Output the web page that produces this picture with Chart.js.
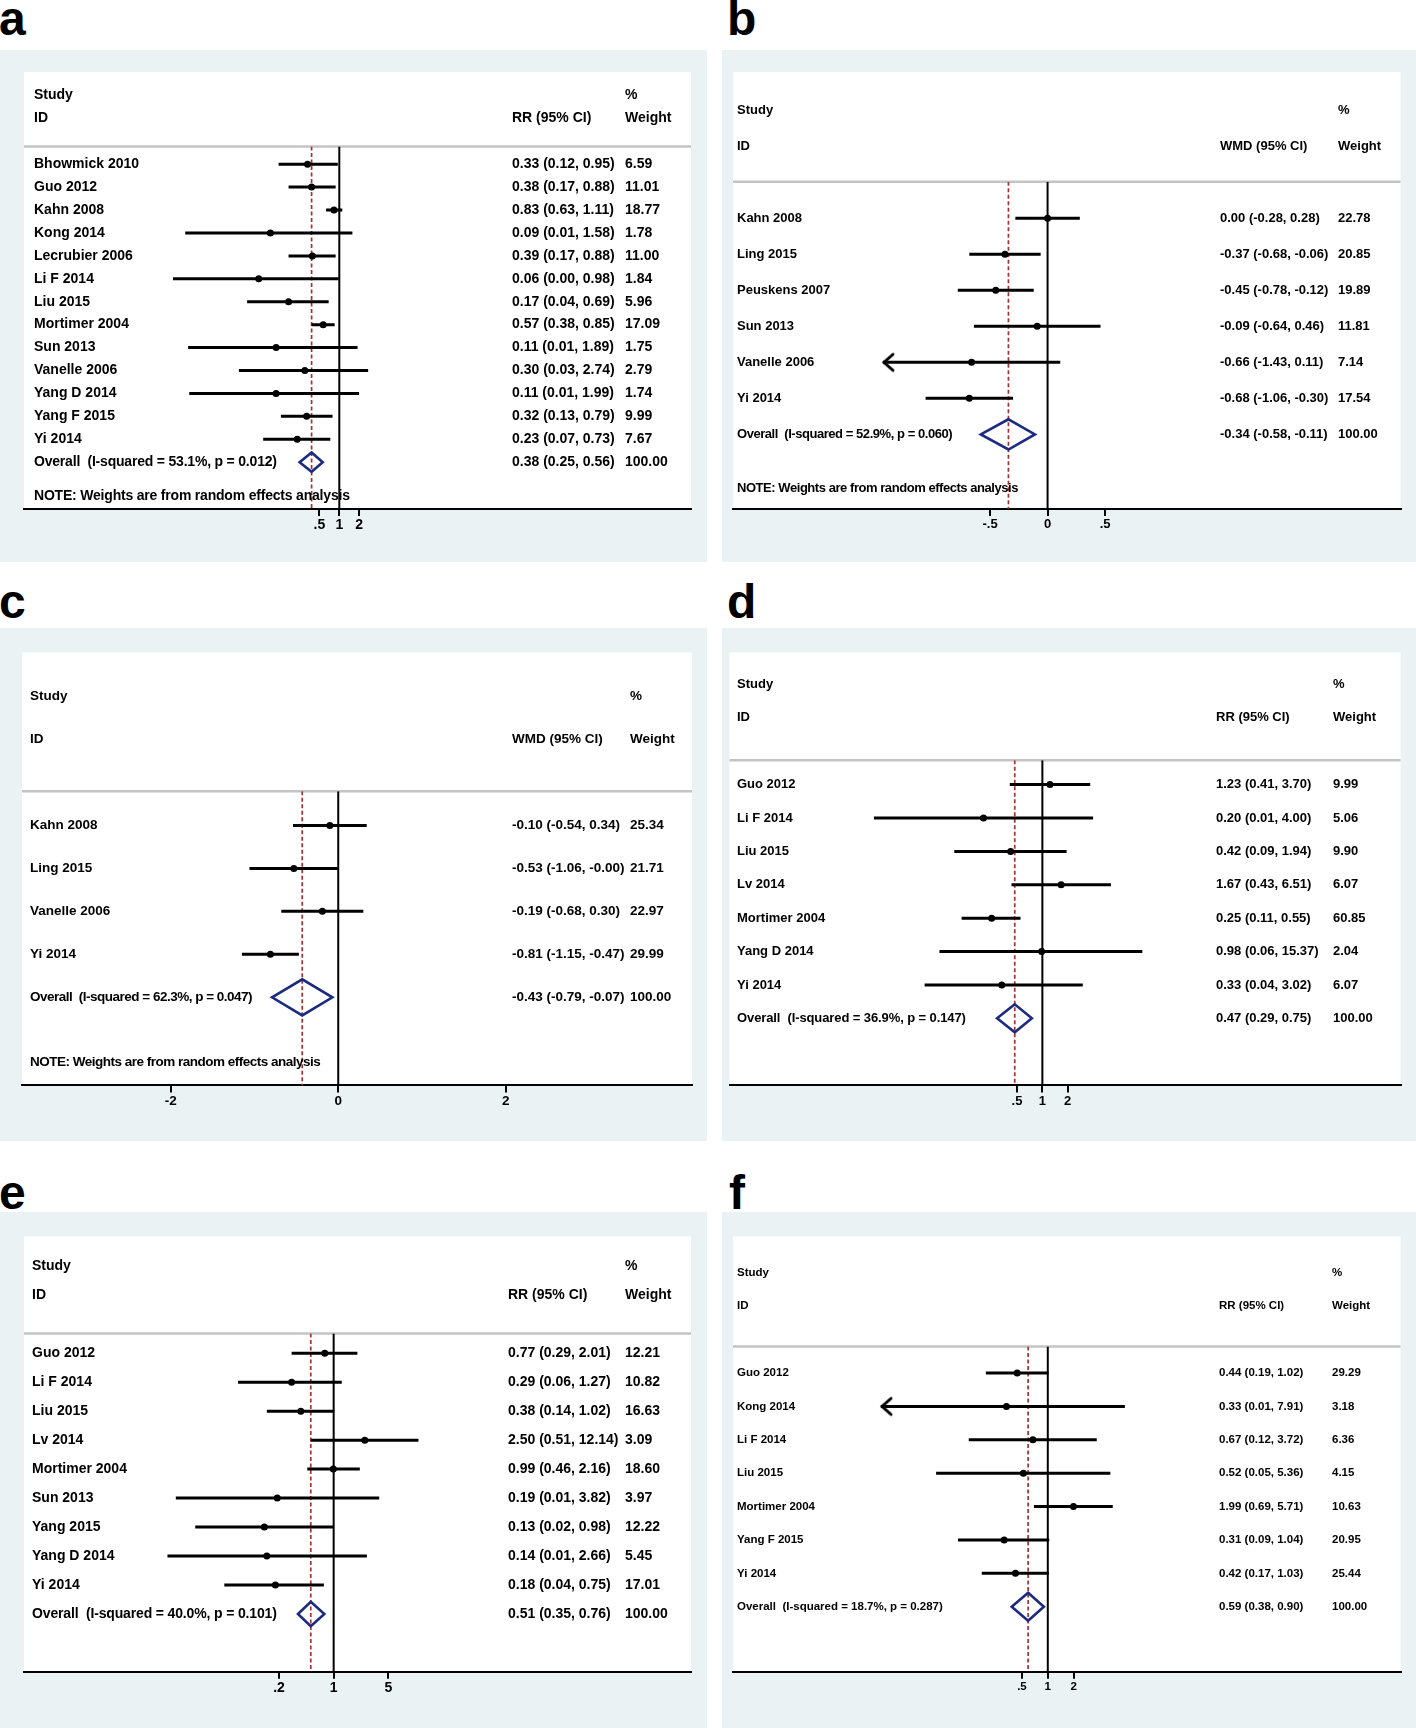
<!DOCTYPE html>
<html>
<head>
<meta charset="utf-8">
<script src="https://cdn.jsdelivr.net/npm/chart.js@4.4.1/dist/chart.umd.min.js"></script>
<style>
  body { margin: 0; background: #fff; }
  #page { position: relative; width: 1416px; height: 1728px; overflow: hidden; }
  canvas { position: absolute; }
  .tag { position: absolute; font: bold 48px "Liberation Sans", Arial, sans-serif; line-height: 48px; color: #000; }
</style>
</head>
<body>
<div id="page">
  <div class="tag" style="left:-1px;top:-5px">a</div>
  <div class="tag" style="left:727px;top:-5px">b</div>
  <div class="tag" style="left:-1px;top:578px">c</div>
  <div class="tag" style="left:727px;top:578px">d</div>
  <div class="tag" style="left:-1px;top:1169px">e</div>
  <div class="tag" style="left:729px;top:1169px">f</div>
  <canvas id="cA"></canvas>
  <canvas id="cB"></canvas>
  <canvas id="cC"></canvas>
  <canvas id="cD"></canvas>
  <canvas id="cE"></canvas>
  <canvas id="cF"></canvas>
</div>
<script>
// ---- panel a (RR) ----
const aStudies = ["Bhowmick 2010", "Guo 2012", "Kahn 2008", "Kong 2014", "Lecrubier 2006", "Li F 2014",
  "Liu 2015", "Mortimer 2004", "Sun 2013", "Vanelle 2006", "Yang D 2014", "Yang F 2015", "Yi 2014"];
const aEst = [0.33, 0.38, 0.83, 0.09, 0.39, 0.06, 0.17, 0.57, 0.11, 0.30, 0.11, 0.32, 0.23];
const aLo  = [0.12, 0.17, 0.63, 0.0046, 0.17, 0.003, 0.04, 0.38, 0.0051, 0.03, 0.0053, 0.13, 0.07];
const aHi  = [0.95, 0.88, 1.11, 1.58, 0.88, 0.98, 0.69, 0.85, 1.89, 2.74, 1.99, 0.79, 0.73];
const aCI  = ["0.33 (0.12, 0.95)", "0.38 (0.17, 0.88)", "0.83 (0.63, 1.11)", "0.09 (0.01, 1.58)",
  "0.39 (0.17, 0.88)", "0.06 (0.00, 0.98)", "0.17 (0.04, 0.69)", "0.57 (0.38, 0.85)", "0.11 (0.01, 1.89)",
  "0.30 (0.03, 2.74)", "0.11 (0.01, 1.99)", "0.32 (0.13, 0.79)", "0.23 (0.07, 0.73)"];
const aWeight = ["6.59", "11.01", "18.77", "1.78", "11.00", "1.84", "5.96", "17.09", "1.75", "2.79", "1.74", "9.99", "7.67"];
const aOverall = [0.38, 0.25, 0.56];
const aOverallText = ["Overall  (I-squared = 53.1%, p = 0.012)", "0.38 (0.25, 0.56)", "100.00"];
const aTicks = [0.5, 1, 2];
const aArrows = [];

// ---- panel b (WMD) ----
const bStudies = ["Kahn 2008", "Ling 2015", "Peuskens 2007", "Sun 2013", "Vanelle 2006", "Yi 2014"];
const bEst = [0.00, -0.37, -0.45, -0.09, -0.66, -0.68];
const bLo  = [-0.28, -0.68, -0.78, -0.64, -1.43, -1.06];
const bHi  = [0.28, -0.06, -0.12, 0.46, 0.11, -0.30];
const bCI  = ["0.00 (-0.28, 0.28)", "-0.37 (-0.68, -0.06)", "-0.45 (-0.78, -0.12)", "-0.09 (-0.64, 0.46)",
  "-0.66 (-1.43, 0.11)", "-0.68 (-1.06, -0.30)"];
const bWeight = ["22.78", "20.85", "19.89", "11.81", "7.14", "17.54"];
const bOverall = [-0.34, -0.58, -0.11];
const bOverallText = ["Overall  (I-squared = 52.9%, p = 0.060)", "-0.34 (-0.58, -0.11)", "100.00"];
const bTicks = [-0.5, 0, 0.5];
const bArrows = [4];

// ---- panel c (WMD) ----
const cStudies = ["Kahn 2008", "Ling 2015", "Vanelle 2006", "Yi 2014"];
const cEst = [-0.10, -0.53, -0.19, -0.81];
const cLo  = [-0.54, -1.06, -0.68, -1.15];
const cHi  = [0.34, -0.00, 0.30, -0.47];
const cCI  = ["-0.10 (-0.54, 0.34)", "-0.53 (-1.06, -0.00)", "-0.19 (-0.68, 0.30)", "-0.81 (-1.15, -0.47)"];
const cWeight = ["25.34", "21.71", "22.97", "29.99"];
const cOverall = [-0.43, -0.79, -0.07];
const cOverallText = ["Overall  (I-squared = 62.3%, p = 0.047)", "-0.43 (-0.79, -0.07)", "100.00"];
const cTicks = [-2, 0, 2];
const cArrows = [];

// ---- panel d (RR) ----
const dStudies = ["Guo 2012", "Li F 2014", "Liu 2015", "Lv 2014", "Mortimer 2004", "Yang D 2014", "Yi 2014"];
const dEst = [1.23, 0.20, 0.42, 1.67, 0.25, 0.98, 0.33];
const dLo  = [0.41, 0.01, 0.09, 0.43, 0.11, 0.06, 0.04];
const dHi  = [3.70, 4.00, 1.94, 6.51, 0.55, 15.37, 3.02];
const dCI  = ["1.23 (0.41, 3.70)", "0.20 (0.01, 4.00)", "0.42 (0.09, 1.94)", "1.67 (0.43, 6.51)",
  "0.25 (0.11, 0.55)", "0.98 (0.06, 15.37)", "0.33 (0.04, 3.02)"];
const dWeight = ["9.99", "5.06", "9.90", "6.07", "60.85", "2.04", "6.07"];
const dOverall = [0.47, 0.29, 0.75];
const dOverallText = ["Overall  (I-squared = 36.9%, p = 0.147)", "0.47 (0.29, 0.75)", "100.00"];
const dTicks = [0.5, 1, 2];
const dArrows = [];

// ---- panel e (RR) ----
const eStudies = ["Guo 2012", "Li F 2014", "Liu 2015", "Lv 2014", "Mortimer 2004", "Sun 2013", "Yang 2015", "Yang D 2014", "Yi 2014"];
const eEst = [0.77, 0.29, 0.38, 2.50, 0.99, 0.19, 0.13, 0.14, 0.18];
const eLo  = [0.29, 0.06, 0.14, 0.51, 0.46, 0.0096, 0.017, 0.0075, 0.04];
const eHi  = [2.01, 1.27, 1.02, 12.14, 2.16, 3.82, 0.98, 2.66, 0.75];
const eCI  = ["0.77 (0.29, 2.01)", "0.29 (0.06, 1.27)", "0.38 (0.14, 1.02)", "2.50 (0.51, 12.14)",
  "0.99 (0.46, 2.16)", "0.19 (0.01, 3.82)", "0.13 (0.02, 0.98)", "0.14 (0.01, 2.66)", "0.18 (0.04, 0.75)"];
const eWeight = ["12.21", "10.82", "16.63", "3.09", "18.60", "3.97", "12.22", "5.45", "17.01"];
const eOverall = [0.51, 0.35, 0.76];
const eOverallText = ["Overall  (I-squared = 40.0%, p = 0.101)", "0.51 (0.35, 0.76)", "100.00"];
const eTicks = [0.2, 1, 5];
const eArrows = [];

// ---- panel f (RR) ----
const fStudies = ["Guo 2012", "Kong 2014", "Li F 2014", "Liu 2015", "Mortimer 2004", "Yang F 2015", "Yi 2014"];
const fEst = [0.44, 0.33, 0.67, 0.52, 1.99, 0.31, 0.42];
const fLo  = [0.19, 0.0114, 0.12, 0.05, 0.69, 0.09, 0.17];
const fHi  = [1.02, 7.91, 3.72, 5.36, 5.71, 1.04, 1.03];
const fCI  = ["0.44 (0.19, 1.02)", "0.33 (0.01, 7.91)", "0.67 (0.12, 3.72)", "0.52 (0.05, 5.36)",
  "1.99 (0.69, 5.71)", "0.31 (0.09, 1.04)", "0.42 (0.17, 1.03)"];
const fWeight = ["29.29", "3.18", "6.36", "4.15", "10.63", "20.95", "25.44"];
const fOverall = [0.59, 0.38, 0.90];
const fOverallText = ["Overall  (I-squared = 18.7%, p = 0.287)", "0.59 (0.38, 0.90)", "100.00"];
const fTicks = [0.5, 1, 2];
const fArrows = [1];

const NOTE = "NOTE: Weights are from random effects analysis";
const FONT = '"Liberation Sans", Arial, Helvetica, sans-serif';

// layout of each panel (page pixels); sp = letter spacing of the long label lines
const panels = [
  { cv: "cA", studies: aStudies, est: aEst, lo: aLo, hi: aHi, ci: aCI, w: aWeight, overall: aOverall, ov: aOverallText,
    ticks: aTicks, arrows: aArrows, effect: "RR (95% CI)", log: true, xMin: 1.65e-5, xMax: 2.16e5, note: 14.5,
    left: 0, top: 50, width: 707, height: 512, wl: 24, wr: 691, wt: 72, rule: 146.6, axis: 509.1, row0: 164.2, gap: 22.92,
    nameX: 34, ciX: 512, wX: 625, size: 14, sp: -0.2 },
  { cv: "cB", studies: bStudies, est: bEst, lo: bLo, hi: bHi, ci: bCI, w: bWeight, overall: bOverall, ov: bOverallText,
    ticks: bTicks, arrows: bArrows, effect: "WMD (95% CI)", log: false, xMin: -2.733, xMax: 3.067, note: 7.5,
    left: 722, top: 50, width: 694, height: 512, wl: 729.5, wr: 1400.6, wt: 72, rule: 181.8, axis: 509.1, row0: 218.2, gap: 36.03,
    nameX: 737, ciX: 1220, wX: 1338, size: 13, sp: -0.45 },
  { cv: "cC", studies: cStudies, est: cEst, lo: cLo, hi: cHi, ci: cCI, w: cWeight, overall: cOverall, ov: cOverallText,
    ticks: cTicks, arrows: cArrows, effect: "WMD (95% CI)", log: false, xMin: -3.776, xMax: 4.224, note: 5.5,
    left: 0, top: 628, width: 707, height: 513, wl: 22, wr: 692, wt: 652.4, rule: 791.2, axis: 1085.4, row0: 825.4, gap: 42.98,
    nameX: 30, ciX: 512, wX: 630, size: 13.5, sp: -0.5 },
  { cv: "cD", studies: dStudies, est: dEst, lo: dLo, hi: dHi, ci: dCI, w: dWeight, overall: dOverall, ov: dOverallText,
    ticks: dTicks, arrows: dArrows, effect: "RR (95% CI)", log: true, xMin: 1.93e-4, xMax: 1.79e4, note: null,
    left: 722, top: 628, width: 694, height: 513, wl: 729.5, wr: 1400.6, wt: 652.4, rule: 760.3, axis: 1085.4, row0: 784.6, gap: 33.39,
    nameX: 737, ciX: 1216, wX: 1333, size: 13, sp: -0.1 },
  { cv: "cE", studies: eStudies, est: eEst, lo: eLo, hi: eHi, ci: eCI, w: eWeight, overall: eOverall, ov: eOverallText,
    ticks: eTicks, arrows: eArrows, effect: "RR (95% CI)", log: true, xMin: 1.1e-4, xMax: 3.7e4, note: null,
    left: 0, top: 1212, width: 707, height: 516, wl: 24, wr: 691, wt: 1236.4, rule: 1333.4, axis: 1671.7, row0: 1353.2, gap: 28.98,
    nameX: 32, ciX: 508, wX: 625, size: 14, sp: -0.15 },
  { cv: "cF", studies: fStudies, est: fEst, lo: fLo, hi: fHi, ci: fCI, w: fWeight, overall: fOverall, ov: fOverallText,
    ticks: fTicks, arrows: fArrows, effect: "RR (95% CI)", log: true, xMin: 2.15e-4, xMax: 1.29e4, note: null,
    left: 722, top: 1212, width: 694, height: 516, wl: 729.5, wr: 1400.6, wt: 1236.4, rule: 1346.6, axis: 1671.7, row0: 1373, gap: 33.39,
    nameX: 737, ciX: 1219, wX: 1332, size: 11.5, sp: 0 }
];

// open arrow head used where a CI runs off the plot
function chevron() {
  const c = document.createElement("canvas");
  c.width = 28; c.height = 28;
  const g = c.getContext("2d");
  g.strokeStyle = "#000"; g.lineWidth = 3; g.lineCap = "round";
  g.beginPath(); g.moveTo(24, 6); g.lineTo(15, 14); g.lineTo(24, 22); g.stroke();
  return c;
}
const arrowHead = chevron();

function tickLabel(v) {
  return String(v).replace(/^(-?)0\./, "$1.");
}

function drawForest(p) {
  const canvas = document.getElementById(p.cv);
  canvas.width = p.width; canvas.height = p.height;
  canvas.style.left = p.left + "px"; canvas.style.top = p.top + "px";
  const n = p.studies.length;
  const yMin = (p.rule - p.row0) / p.gap;
  const yMax = (p.axis - p.row0) / p.gap;
  const ref = p.log ? 1 : 0;
  const h = 0.42;
  const AXIS_H = 30;

  const datasets = [];
  datasets.push({ data: [{ x: ref, y: yMin }, { x: ref, y: yMax }], showLine: true, borderColor: "#000",
    borderWidth: 2, pointRadius: 0, order: 6 });
  datasets.push({ data: [{ x: p.overall[0], y: yMin }, { x: p.overall[0], y: yMax }], showLine: true,
    borderColor: "#a33235", borderWidth: 1.7, borderDash: [4, 2.5], pointRadius: 0, order: 5 });
  p.lo.forEach((lo, i) => {
    datasets.push({ data: [{ x: lo, y: i }, { x: p.hi[i], y: i }], showLine: true, borderColor: "#000",
      borderWidth: 3, pointRadius: 0, order: 4 });
  });
  datasets.push({ data: p.est.map((e, i) => ({ x: e, y: i })), pointRadius: 3.5, backgroundColor: "#000",
    borderWidth: 0, order: 3 });
  if (p.arrows.length) {
    datasets.push({ data: p.arrows.map(i => ({ x: p.lo[i], y: i })), pointStyle: arrowHead, pointRadius: 10, order: 2 });
  }
  const o = p.overall;
  datasets.push({ data: [{ x: o[1], y: n }, { x: o[0], y: n - h }, { x: o[2], y: n }, { x: o[0], y: n + h },
      { x: o[1], y: n }, { x: o[0], y: n - h }],
    showLine: true, borderColor: "#1c2a80", borderWidth: 2.6, borderJoinStyle: "miter", pointRadius: 0, order: 1 });

  const forestText = {
    id: "forestText",
    beforeDraw(chart) {
      const ctx = chart.ctx, ca = chart.chartArea;
      ctx.save();
      ctx.fillStyle = "#eaf2f3";
      ctx.fillRect(0, 0, chart.width, chart.height);
      ctx.fillStyle = "#fff";
      ctx.fillRect(ca.left, p.wt - p.top, ca.right - ca.left, ca.bottom - (p.wt - p.top));
      ctx.strokeStyle = "#c4c4c4"; ctx.lineWidth = 2.5;
      ctx.beginPath(); ctx.moveTo(ca.left, ca.top); ctx.lineTo(ca.right, ca.top); ctx.stroke();
      ctx.restore();
    },
    afterDraw(chart) {
      const ctx = chart.ctx, y = chart.scales.y;
      const nx = p.nameX - p.left, cx = p.ciX - p.left, wx = p.wX - p.left;
      ctx.save();
      ctx.fillStyle = "#000";
      ctx.font = "bold " + p.size + "px " + FONT;
      ctx.textBaseline = "middle"; ctx.textAlign = "left";
      const row = v => y.getPixelForValue(v);
      ctx.fillText("Study", nx, row(-3));
      ctx.fillText("%", wx, row(-3));
      ctx.fillText("ID", nx, row(-2));
      ctx.fillText(p.effect, cx, row(-2));
      ctx.fillText("Weight", wx, row(-2));
      p.studies.forEach((s, i) => {
        ctx.fillText(s, nx, row(i));
        ctx.fillText(p.ci[i], cx, row(i));
        ctx.fillText(p.w[i], wx, row(i));
      });
      ctx.fillText(p.ov[1], cx, row(n));
      ctx.fillText(p.ov[2], wx, row(n));
      ctx.letterSpacing = p.sp + "px";
      ctx.fillText(p.ov[0], nx, row(n));
      if (p.note !== null) ctx.fillText(NOTE, nx, row(p.note));
      ctx.restore();
    }
  };

  new Chart(canvas, {
    type: "scatter",
    data: { datasets },
    options: {
      responsive: false,
      animation: false,
      devicePixelRatio: 1,
      layout: {
        padding: {
          left: p.wl - p.left,
          right: p.left + p.width - p.wr,
          top: p.rule - p.top,
          bottom: p.top + p.height - p.axis - AXIS_H
        }
      },
      plugins: { legend: { display: false }, tooltip: { enabled: false } },
      scales: {
        x: {
          type: p.log ? "logarithmic" : "linear",
          min: p.xMin, max: p.xMax,
          afterBuildTicks: s => { s.ticks = p.ticks.map(v => ({ value: v })); },
          afterFit: s => { s.height = AXIS_H; },
          grid: { drawOnChartArea: false, drawTicks: true, tickLength: 7, color: "#000", lineWidth: 2 },
          border: { display: true, color: "#000", width: 2 },
          ticks: { color: "#000", padding: 1, maxRotation: 0, autoSkip: false,
            font: { family: FONT, size: p.size, weight: "bold" }, callback: v => tickLabel(v) }
        },
        y: { type: "linear", display: false, reverse: true, min: yMin, max: yMax }
      }
    },
    plugins: [forestText]
  });
}

panels.forEach(drawForest);
</script>
</body>
</html>
